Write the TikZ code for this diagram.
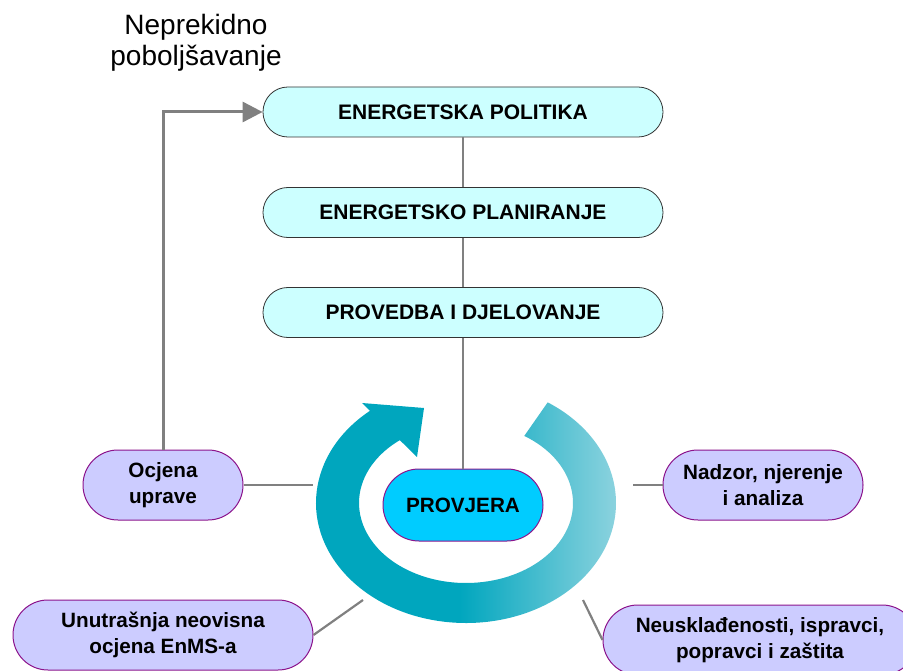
\documentclass[tikz,border=0pt]{standalone}
\usepackage{fontspec}
\setmainfont{Liberation Sans}
\usetikzlibrary{arrows.meta}
\definecolor{cyanlight}{RGB}{204,255,255}
\definecolor{cyanmid}{RGB}{0,204,255}
\definecolor{lav}{RGB}{204,204,255}
\definecolor{purp}{RGB}{140,20,140}
\definecolor{connc}{RGB}{128,128,128}
\definecolor{tealA}{RGB}{0,166,190}
\definecolor{tealB}{RGB}{138,210,222}
\pgfdeclarehorizontalshading{ringshade}{100bp}{color(0bp)=(tealA); color(50bp)=(tealA); color(74bp)=(tealB); color(100bp)=(tealB)}
\tikzset{
  topbox/.style={draw=black!80, line width=0.8pt, fill=cyanlight, rounded corners=24.9pt,
    minimum width=400pt, minimum height=50pt, inner sep=0pt,
    font=\bfseries\fontsize{21}{24}\selectfont},
  subbox/.style={draw=purp, line width=1pt, fill=lav, rounded corners=34.9pt,
    minimum height=70pt, inner sep=0pt, align=center,
    font=\bfseries\fontsize{20.7}{26}\selectfont},
  connline/.style={draw=connc, line width=2.2pt},
}
\begin{document}
\begin{tikzpicture}[x=1pt,y=-1pt]
\useasboundingbox (0,0) rectangle (903,671);
\clip (0,0) rectangle (903,671);
% circular arrow
\begin{scope}[shift={(466,503)}]
  \path[shading=ringshade]
    (-127:150 and 120) arc[start angle=-127, end angle=-417, x radius=150, y radius=120]
    -- (-417:107 and 80) arc[start angle=-417, end angle=-127, x radius=107, y radius=80]
    -- cycle;
\end{scope}
\fill[tealA] (362,403) -- (424,408) -- (417,457) -- cycle;
% title
\node[font=\fontsize{28}{31}\selectfont, align=center] (title) at (196,43) {Neprekidno\\poboljšavanje};
% nodes
\node[topbox] (pol) at (463,112) {ENERGETSKA POLITIKA};
\node[topbox] (plan) at (463,212.5) {ENERGETSKO PLANIRANJE};
\node[topbox] (prov) at (463,312.5) {PROVEDBA I DJELOVANJE};
\node[subbox, fill=cyanmid, minimum width=160pt, minimum height=72pt, rounded corners=35.9pt] (provj) at (463,505) {PROVJERA};
\node[subbox, minimum width=160pt] (ocj) at (163,485) {Ocjena\\uprave};
\node[subbox, minimum width=200pt] (nad) at (763,485) {Nadzor, njerenje\\i analiza};
\node[subbox, minimum width=300pt] (unu) at (163,635) {Unutrašnja neovisna\\ocjena EnMS-a};
\node[subbox, minimum width=314pt] (neu) at (760,640) {Neusklađenosti, ispravci,\\popravci i zaštita};
% connectors
\draw[connline] (pol.south) -- (plan.north);
\draw[connline] (plan.south) -- (prov.north);
\draw[connline] (prov.south) -- (provj.north);
\coordinate (rl) at (313,485);
\coordinate (rr) at (633,485);
\coordinate (rbl) at (363,600);
\coordinate (rbr) at (583,600);
\draw[connline] (ocj.east) -- (rl);
\draw[connline] (rr) -- (nad.west);
\draw[connline] (unu.east) -- (rbl);
\draw[connline] (rbr) -- (neu.west);
\draw[draw=connc, line width=3pt, -{Triangle[length=20pt,width=20pt]}] (ocj.north) |- (pol.west);
\end{tikzpicture}
\end{document}
